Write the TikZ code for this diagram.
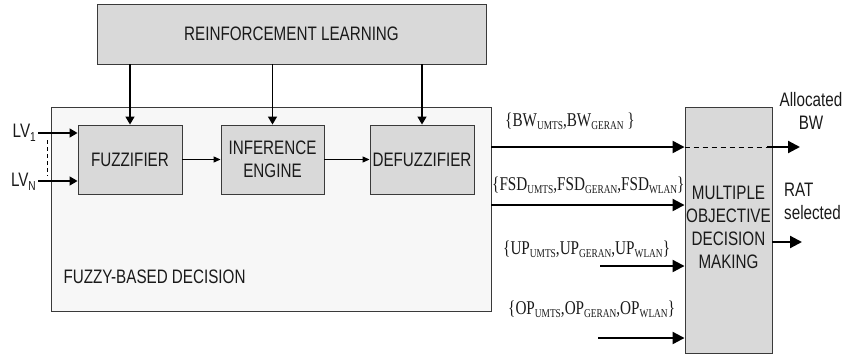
\documentclass[tikz,border=0pt]{standalone}
\usepackage{fontspec}
\usetikzlibrary{arrows.meta}
\newfontfamily\sansN{Liberation Sans}[FakeStretch=0.78]
\newfontfamily\serifN{Liberation Serif}[FakeStretch=0.78]
\definecolor{boxgray}{HTML}{D9D9D9}
\definecolor{panel}{HTML}{F7F7F7}
\definecolor{edge}{HTML}{3A3A3A}
\definecolor{ink}{HTML}{1A1A1A}
% lowered small subscript in text fonts
\newcommand\ssub[1]{\raisebox{-3pt}{\fontsize{12}{12}\selectfont #1}}
\newcommand\lvsub[1]{\raisebox{-4pt}{\fontsize{13}{13}\selectfont #1}}
\begin{document}
\begin{tikzpicture}[x=1pt,y=-1pt,
  txt/.style={font=\sansN\fontsize{19.5}{23}\selectfont, text=ink, align=center},
  settxt/.style={font=\serifN\fontsize{19.5}{23}\selectfont, text=ink, inner sep=0pt},
  graybox/.style={draw=edge, line width=0.9pt, fill=boxgray, inner sep=0pt, txt},
  smallarr/.style={line width=1.2pt, -{Triangle[length=7pt,width=6pt]}},
  midarr/.style={line width=1.4pt, -{Triangle[length=8pt,width=9pt]}},
  bigarr/.style={line width=2.2pt, -{Triangle[length=12pt,width=12pt]}}]
\useasboundingbox (0,0) rectangle (844,356);

% outer fuzzy decision panel
\node[draw=edge, line width=0.9pt, fill=panel, minimum width=440pt, minimum height=204pt, inner sep=0pt] (fuzzy) at (271,209) {};
\node[txt, anchor=west] (fuzzylabel) at (60,277) {FUZZY-BASED DECISION};

% reinforcement learning block
\node[graybox, minimum width=389pt, minimum height=60pt] (rl) at (291.5,34) {REINFORCEMENT LEARNING};

% fuzzy stages
\node[graybox, minimum width=104pt, minimum height=69pt] (fuzz) at (130,159.5) {FUZZIFIER};
\node[graybox, minimum width=103pt, minimum height=69pt] (inf) at (272.5,159.5) {INFERENCE\\ENGINE};
\node[graybox, minimum width=104pt, minimum height=69pt] (defuzz) at (422,159.5) {DEFUZZIFIER};

% decision block
\node[graybox, minimum width=87pt, minimum height=246pt] (modm) at (728.5,230) {};
\node[txt] (modmtext) at (728.5,227) {MULTIPLE\\OBJECTIVE\\DECISION\\MAKING};

% learning feedback into each stage
\draw[midarr] (fuzz.north |- rl.south) -- (fuzz.north);
\draw[midarr] (inf.north |- rl.south) -- (inf.north);
\draw[midarr] (defuzz.north |- rl.south) -- (defuzz.north);

% stage chain
\draw[smallarr] (fuzz.east) -- (inf.west);
\draw[smallarr] (inf.east) -- (defuzz.west);

% linguistic variable inputs
\node[txt, anchor=east, inner sep=0pt] (lv1) at (36,133) {LV\lvsub{1}};
\node[txt, anchor=east, inner sep=0pt] (lvn) at (36,182) {LV\lvsub{N}};
\coordinate (lv1s) at (38,133);
\coordinate (lvns) at (38,181);
\draw[midarr] (lv1s) -- (lv1s -| fuzz.west);
\draw[midarr] (lvns) -- (lvns -| fuzz.west);
\coordinate (dtop) at (47,140);
\coordinate (dbot) at (47,176);
\draw[line width=1pt, dash pattern=on 4pt off 3pt] (dtop) -- (dbot);

% outputs towards the decision block
\coordinate (bwin) at (491,147);
\coordinate (fsdin) at (491,205);
\coordinate (upin) at (600,266);
\coordinate (opin) at (598,338);
\draw[bigarr] (bwin) -- (bwin -| modm.west);
\draw[bigarr] (fsdin) -- (fsdin -| modm.west);
\draw[bigarr] (upin) -- (upin -| modm.west);
\draw[bigarr] (opin) -- (opin -| modm.west);

\node[settxt, anchor=west] (bwlab) at (505,121) {\{BW\ssub{UMTS},BW\ssub{GERAN} \}};
\node[settxt, anchor=west] (fsdlab) at (492,185) {\{FSD\ssub{UMTS},FSD\ssub{GERAN},FSD\ssub{WLAN}\}};
\node[settxt, anchor=west] (uplab) at (503,249) {\{UP\ssub{UMTS},UP\ssub{GERAN},UP\ssub{WLAN}\}};
\node[settxt, anchor=west] (oplab) at (508,309) {\{OP\ssub{UMTS},OP\ssub{GERAN},OP\ssub{WLAN}\}};

% decision outputs
\coordinate (bwpass) at (767,147);
\coordinate (bwout) at (800,147);
\draw[line width=1pt, dash pattern=on 5pt off 4pt] (bwin -| modm.west) -- (bwpass);
\draw[bigarr] (bwpass) -- (bwout);
\coordinate (ratout) at (802,242);
\draw[bigarr] (ratout -| modm.east) -- (ratout);

\node[txt] (alloc) at (811,111) {Allocated\\BW};
\node[txt, align=left, anchor=west, inner sep=0pt] (rat) at (784,201) {RAT\\selected};
\end{tikzpicture}
\end{document}
